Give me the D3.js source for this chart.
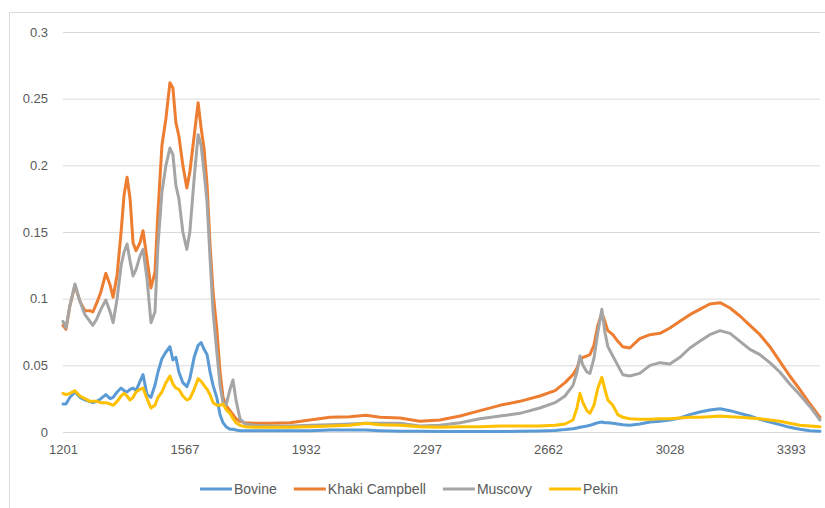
<!DOCTYPE html>
<html>
<head>
<meta charset="utf-8">
<script src="https://cdnjs.cloudflare.com/ajax/libs/d3/7.8.5/d3.min.js"></script>
<style>
  html, body { margin: 0; padding: 0; background: #ffffff; }
  svg { display: block; }
</style>
</head>
<body>
<svg id="chart" width="825" height="508"></svg>
<script>
// ---------------- DATA ----------------
const seriesNames = ["Bovine", "Khaki Campbell", "Muscovy", "Pekin"];
const xTickLabels = [1201, 1567, 1932, 2297, 2662, 3028, 3393];
const yTickLabels = [0, 0.05, 0.1, 0.15, 0.2, 0.25, 0.3];

const wavenumbers = [1201,1210,1222,1237,1252,1267,1282,1291,1303,1315,1330,1343,1352,1364,1376,1385,1394,1403,1412,1421,1433,1442,1454,1466,1478,1487,1499,1511,1523,1532,1541,1550,1562,1574,1583,1596,1608,1617,1626,1635,1644,1653,1665,1674,1683,1692,1704,1713,1722,1734,1749,1779,1824,1885,1945,2005,2065,2113,2156,2216,2276,2336,2397,2457,2517,2577,2637,2683,2713,2737,2749,2758,2767,2779,2788,2800,2812,2824,2833,2842,2857,2872,2887,2908,2938,2969,2999,3029,3059,3089,3119,3149,3180,3210,3240,3270,3300,3330,3360,3390,3420,3451,3481];

const bovine = [.021,.021,.026,.030,.026,.024,.023,.022,.023,.025,.028,.025,.026,.030,.033,.031,.030,.032,.033,.031,.038,.043,.028,.026,.035,.045,.055,.060,.064,.054,.056,.045,.037,.034,.040,.056,.065,.067,.062,.058,.045,.035,.025,.013,.007,.004,.002,.002,.0015,.001,.001,.001,.001,.001,.001,.0015,.0015,.0015,.001,.0005,.0005,.0003,.0003,.0003,.0003,.0005,.0008,.0012,.0018,.0025,.003,.0035,.004,.0045,.005,.006,.007,.0075,.007,.007,.0065,.006,.0055,.005,.006,.0075,.008,.009,.0105,.013,.015,.0165,.0175,.016,.014,.012,.0095,.0075,.0055,.0035,.002,.001,.0005];

const khakiCampbell = [.080,.077,.095,.110,.098,.091,.091,.090,.097,.105,.119,.110,.101,.118,.150,.178,.191,.175,.142,.136,.142,.151,.130,.108,.120,.165,.215,.235,.262,.258,.232,.222,.200,.183,.195,.222,.247,.228,.212,.185,.140,.105,.075,.045,.026,.020,.016,.013,.010,.008,.007,.0065,.0065,.007,.009,.011,.0115,.0125,.011,.0105,.008,.009,.012,.016,.020,.023,.027,.031,.037,.043,.048,.054,.056,.057,.058,.065,.080,.089,.083,.076,.073,.068,.064,.063,.070,.073,.074,.078,.083,.088,.092,.096,.097,.093,.087,.080,.073,.064,.053,.042,.032,.021,.011];

const muscovy = [.083,.078,.095,.111,.098,.088,.083,.080,.085,.092,.099,.090,.082,.100,.125,.135,.141,.128,.117,.122,.132,.137,.115,.082,.090,.140,.180,.200,.213,.208,.185,.175,.150,.137,.150,.190,.223,.215,.195,.172,.130,.090,.058,.035,.022,.020,.032,.039,.024,.010,.006,.005,.0045,.0045,.005,.0055,.006,.0065,.0065,.0065,.0045,.005,.007,.010,.012,.014,.018,.022,.027,.035,.045,.057,.050,.045,.044,.055,.075,.092,.075,.064,.057,.050,.043,.042,.044,.050,.052,.051,.056,.063,.068,.073,.076,.074,.068,.062,.058,.052,.045,.036,.028,.019,.009];

const pekin = [.029,.028,.029,.031,.027,.025,.023,.023,.023,.022,.022,.021,.020,.023,.027,.029,.027,.024,.026,.030,.032,.033,.025,.018,.020,.026,.030,.037,.042,.036,.033,.032,.027,.024,.025,.032,.040,.038,.035,.032,.028,.022,.020,.020,.021,.017,.014,.010,.007,.005,.004,.0035,.0035,.0035,.004,.0045,.005,.0065,.0055,.005,.004,.0035,.004,.004,.0045,.0045,.0045,.005,.006,.009,.018,.029,.022,.016,.014,.020,.033,.041,.032,.024,.020,.013,.011,.010,.0095,.0095,.010,.010,.0105,.011,.011,.0115,.012,.0115,.011,.0105,.010,.009,.008,.0065,.005,.0045,.004];

const seriesColors = ["#5B9BD5", "#ED7D31", "#A5A5A5", "#FFC000"];

// ---------------- CHART ----------------
const svg = d3.select("#chart");
const plot = { left: 63, right: 820, top: 32, bottom: 432 };

// outer chart frame
svg.append("rect")
  .attr("x", 9.5).attr("y", 12.5)
  .attr("width", 840).attr("height", 520)
  .attr("fill", "#ffffff")
  .attr("stroke", "#D9D9D9").attr("stroke-width", 1);

const x = d3.scaleLinear()
  .domain([wavenumbers[0], wavenumbers[wavenumbers.length - 1]])
  .range([plot.left, plot.right]);
const y = d3.scaleLinear().domain([0, 0.3]).range([plot.bottom, plot.top]);

const fontFam = "'Liberation Sans', Arial, sans-serif";

// Y gridlines + labels
const yAxis = d3.axisLeft(y)
  .tickValues(yTickLabels)
  .tickSize(-(plot.right - plot.left))
  .tickPadding(15)
  .tickFormat(d => d === 0 ? "0" : String(+d.toFixed(2)));
const gy = svg.append("g")
  .attr("transform", `translate(${plot.left},0)`)
  .call(yAxis);
gy.select(".domain").remove();
gy.selectAll(".tick line").attr("stroke", "#D9D9D9").attr("stroke-width", 1);
gy.selectAll(".tick text")
  .attr("fill", "#595959")
  .style("font-family", fontFam)
  .style("font-size", "13px");

// X axis labels
const xAxis = d3.axisBottom(x)
  .tickValues(xTickLabels)
  .tickSize(0)
  .tickPadding(13)
  .tickFormat(d3.format("d"));
const gx = svg.append("g")
  .attr("transform", `translate(0,${plot.bottom})`)
  .call(xAxis);
gx.select(".domain").attr("stroke", "#D9D9D9");
gx.selectAll(".tick text")
  .attr("fill", "#595959")
  .style("font-family", fontFam)
  .style("font-size", "13px");

// Lines
const allSeries = [bovine, khakiCampbell, muscovy, pekin];
const line = d3.line()
  .x((d, i) => x(wavenumbers[i]))
  .y(d => y(d))
  .curve(d3.curveLinear);

allSeries.forEach((vals, k) => {
  svg.append("path")
    .datum(vals)
    .attr("fill", "none")
    .attr("stroke", seriesColors[k])
    .attr("stroke-width", 3)
    .attr("stroke-linejoin", "round")
    .attr("stroke-linecap", "round")
    .attr("d", line);
});

// Legend
const legend = svg.append("g").style("font-family", fontFam).style("font-size", "14px");
const legendY = 489;
let lx = 200;
seriesNames.forEach((name, k) => {
  const g = legend.append("g").attr("transform", `translate(${lx},${legendY})`);
  g.append("line").attr("x1", 0).attr("x2", 32).attr("y1", 0).attr("y2", 0)
    .attr("stroke", seriesColors[k]).attr("stroke-width", 3);
  const t = g.append("text").attr("x", 34).attr("y", 0).attr("dy", "0.35em")
    .attr("fill", "#595959").text(name);
  const tw = t.node().getComputedTextLength();
  lx += 34 + tw + 17;
});
</script>
</body>
</html>
